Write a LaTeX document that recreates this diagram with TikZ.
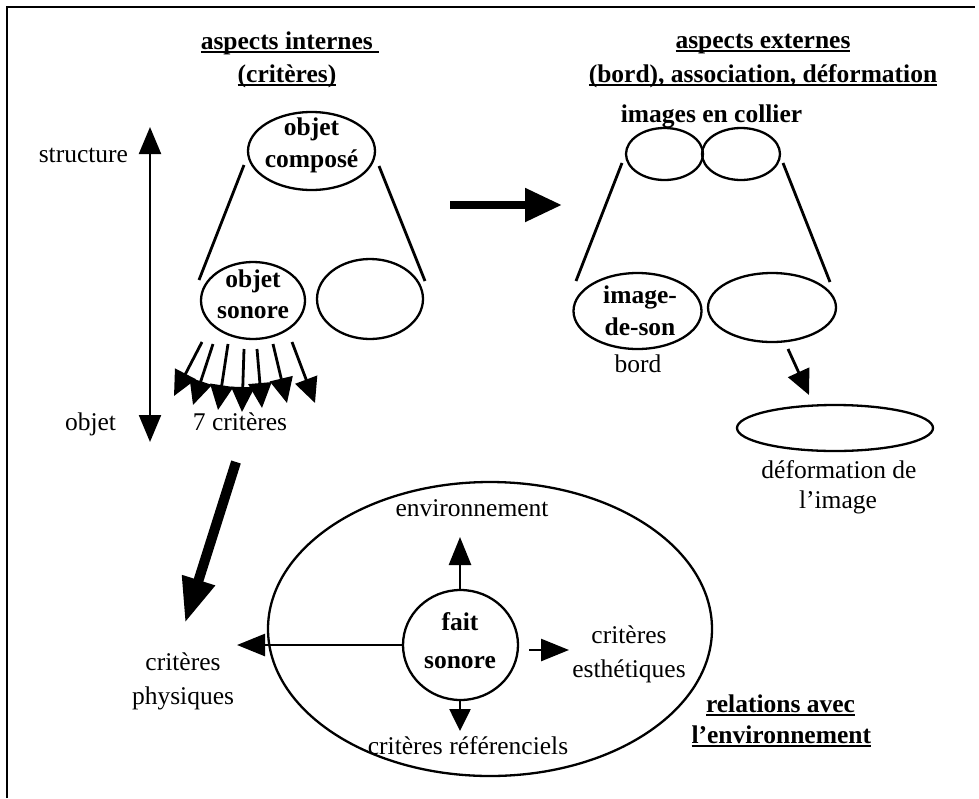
\documentclass[tikz,border=0pt]{standalone}
\usepackage{fontspec}
\setmainfont{Liberation Serif}
\usetikzlibrary{arrows.meta,shapes.geometric}
\newcommand\ulw[1]{\setbox0\hbox{#1}\leavevmode\rlap{\rule[-4pt]{\wd0}{1.6pt}}\box0}
\begin{document}
\begin{tikzpicture}[x=1pt,y=-1pt,
  every node/.style={inner sep=0pt,outer sep=0pt,font=\fontsize{25.5}{32}\selectfont},
  txt/.style={anchor=base},
  btxt/.style={anchor=base,font=\fontsize{25.5}{32}\selectfont\bfseries},
  ell/.style={draw,ellipse,line width=2.3pt},
  conn/.style={line width=2.8pt},
  arr/.style={line width=2.8pt,-{Triangle[length=25pt,width=23pt]}},
  farr/.style={line width=2.6pt,-{Triangle[length=28pt,width=22pt]}},
]
\useasboundingbox (0,0) rectangle (979,798);
\draw[line width=2.5pt] (7,798) -- (7,7) -- (975,7);
% headings
\node[btxt] (hl1) at (290,49) {\ulw{aspects internes\ }};
\node[btxt] (hl2) at (287,82) {\ulw{(critères)}};
\node[btxt] (hr1) at (763,48) {\ulw{aspects externes}};
\node[btxt] (hr2) at (763,82) {\ulw{(bord), association, déformation}};
% left axis
\node[txt,anchor=base east] (structure) at (128,162) {structure};
\node[txt,anchor=base west] (objetl) at (65,430) {objet};
\coordinate (axtop) at (150,127);
\coordinate (axbot) at (150,442);
\draw[line width=2.2pt,{Triangle[length=27pt,width=22pt]}-{Triangle[length=27pt,width=22pt]}] (axtop) -- (axbot);
% internal tree
\node[ell,minimum width=127pt,minimum height=78pt] (oc) at (311.5,151) {};
\node[btxt] (oc1) at (311.5,135) {objet};
\node[btxt] (oc2) at (311.5,167) {composé};
\node[ell,minimum width=104pt,minimum height=77pt] (os) at (253,300.5) {};
\node[btxt] (os1) at (253,287) {objet};
\node[btxt] (os2) at (253,318) {sonore};
\node[ell,minimum width=106pt,minimum height=80pt] (e1) at (370,299) {};
\coordinate (l1a) at (244,165); \coordinate (l1b) at (199,280);
\coordinate (l2a) at (379,166); \coordinate (l2b) at (425,281);
\draw[conn] (l1a) -- (l1b);
\draw[conn] (l2a) -- (l2b);
% seven arrows
\foreach \i/\sx/\sy/\tx/\ty in {1/202/342/174/396,2/213/344/193/405,3/228/344/218/410,4/244/349/242/412,5/257/349/262/408,6/273/344/287/403,7/292/342/315/403}{
  \coordinate (s\i) at (\sx,\sy);
  \coordinate (t\i) at (\tx,\ty);
  \draw[arr] (s\i) -- (t\i);
}
\node[txt] (sept) at (240,430) {7 critères};
% big horizontal arrow
\coordinate (ha) at (450,205); \coordinate (hb) at (562,205);
\draw[line width=8pt,-{Triangle[length=37pt,width=32pt]}] (ha) -- (hb);
% external tree
\node[btxt] (coll) at (711.5,122) {images en collier};
\node[ell,minimum width=77pt,minimum height=52pt] (c1) at (664.5,154) {};
\node[ell,minimum width=78pt,minimum height=52pt] (c2) at (741,154) {};
\coordinate (l3a) at (622,163); \coordinate (l3b) at (576,281);
\coordinate (l4a) at (783,163); \coordinate (l4b) at (830,282);
\draw[conn] (l3a) -- (l3b);
\draw[conn] (l4a) -- (l4b);
\node[ell,minimum width=128pt,minimum height=76pt] (ids) at (637.5,311) {};
\node[btxt] (ids1) at (640,303) {image-};
\node[btxt] (ids2) at (640,335) {de-son};
\node[txt] (bord) at (638,372) {bord};
\node[ell,minimum width=128pt,minimum height=69pt] (e2) at (772,307.5) {};
\coordinate (sa) at (788,349); \coordinate (sb) at (809,395);
\draw[arr] (sa) -- (sb);
\node[ell,minimum width=196pt,minimum height=46pt] (def) at (835,428) {};
\node[txt] (def1) at (839,478) {déformation de};
\node[txt] (def2) at (838,508) {l’image};
% lower part
\node[txt] (cp1) at (183,670) {critères};
\node[txt] (cp2) at (183,704) {physiques};
\coordinate (ta) at (236,462); \coordinate (tb) at (185,623);
\draw[line width=10pt,-{Triangle[length=45pt,width=32pt]}] (ta) -- (tb);
\node[ell,minimum width=444pt,minimum height=294pt] (big) at (490,629) {};
\node[ell,minimum width=115pt,minimum height=110pt] (fs) at (460.5,645) {};
\node[btxt] (fs1) at (460,630) {fait};
\node[btxt] (fs2) at (460,668) {sonore};
\node[txt] (env) at (472,516) {environnement};
\coordinate (ua) at (460,589) ; \coordinate (ub) at (460,537);
\draw[farr] (ua) -- (ub);
\coordinate (la) at (402,645); \coordinate (lb) at (237,645);
\draw[farr] (la) -- (lb);
\coordinate (ra) at (529,650); \coordinate (rb) at (569,650);
\draw[farr] (ra) -- (rb);
\coordinate (da) at (460,700); \coordinate (db) at (460,731);
\draw[line width=2.6pt,-{Triangle[length=22pt,width=21pt]}] (da) -- (db);
\node[txt] (ce1) at (629,643) {critères};
\node[txt] (ce2) at (629,677) {esthétiques};
\node[txt] (cr) at (468,754) {critères référenciels};
\node[btxt,anchor=base east] (rel1) at (855,712) {\ulw{relations avec}};
\node[btxt,anchor=base east] (rel2) at (871,743) {\ulw{l’environnement}};
\end{tikzpicture}
\end{document}
